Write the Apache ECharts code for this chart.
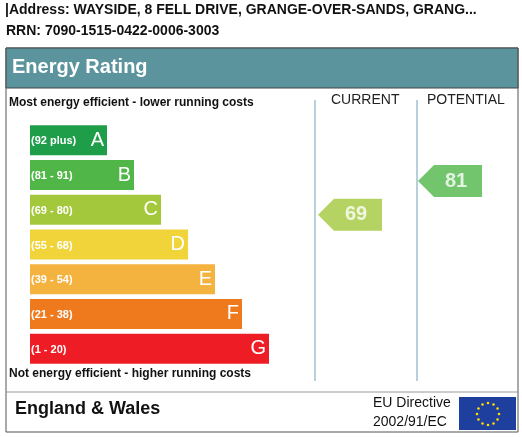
<!DOCTYPE html>
<html><head><meta charset="utf-8">
<script src="https://cdn.jsdelivr.net/npm/echarts@6/dist/echarts.min.js"></script>
<style>html,body{margin:0;padding:0;background:#fff}#c{width:522px;height:437px}</style>
</head><body><div id="c"></div>
<script>
var chart = echarts.init(document.getElementById('c'));

// EPC bands
const bands = ['A', 'B', 'C', 'D', 'E', 'F', 'G'];
const ranges = ['(92 plus)', '(81 - 91)', '(69 - 80)', '(55 - 68)', '(39 - 54)', '(21 - 38)', '(1 - 20)'];
const barLengths = [77, 104, 131, 158, 185, 212, 239];
const bandColors = ['#1f9e4a', '#4fb647', '#a3c83b', '#f0d43a', '#f4b23e', '#ef7a1e', '#ee1c24'];
const current = {value: 69, band: 'C', color: '#a3c83b'};
const potential = {value: 81, band: 'B', color: '#4fb647'};

var stars = [];
for (var i = 0; i < 12; i++) {
  var a = i * Math.PI / 6;
  stars.push({type: 'circle', shape: {cx: 488 + 11 * Math.cos(a), cy: 414 + 11 * Math.sin(a), r: 1.3}, style: {fill: '#ffdd00'}});
}

var font = 'Arial, "Liberation Sans", sans-serif';
var option = {
  animation: false,
  textStyle: {fontFamily: font},
  graphic: [
    {type: 'text', left: 5, top: 3, style: {text: '|Address: WAYSIDE, 8 FELL DRIVE, GRANGE-OVER-SANDS, GRANG...', font: 'bold 14px ' + font, fill: '#111'}},
    {type: 'text', left: 6, top: 24, style: {text: 'RRN: 7090-1515-0422-0006-3003', font: 'bold 14px ' + font, fill: '#111'}},
    {type: 'rect', shape: {x: 6, y: 48, width: 512, height: 384}, style: {fill: 'none', stroke: '#555', lineWidth: 1}},
    {type: 'rect', shape: {x: 6, y: 48, width: 512, height: 40}, style: {fill: '#5b949c', stroke: '#444', lineWidth: 1}},
    {type: 'text', left: 12, top: 57, style: {text: 'Energy Rating', font: 'bold 20px ' + font, fill: '#fff'}},
    {type: 'text', left: 9, top: 97, style: {text: 'Most energy efficient - lower running costs', font: 'bold 12px ' + font, fill: '#111'}},
    {type: 'text', left: 9, top: 368, style: {text: 'Not energy efficient - higher running costs', font: 'bold 12px ' + font, fill: '#111'}},
    {type: 'text', left: 331, top: 93, style: {text: 'CURRENT', font: '14px ' + font, fill: '#222'}},
    {type: 'text', left: 427, top: 93, style: {text: 'POTENTIAL', font: '14px ' + font, fill: '#222'}},
    {type: 'line', shape: {x1: 315, y1: 100, x2: 315, y2: 381}, style: {stroke: '#b7d0dc', lineWidth: 2}},
    {type: 'line', shape: {x1: 417, y1: 100, x2: 417, y2: 381}, style: {stroke: '#b7d0dc', lineWidth: 2}},
    {type: 'line', shape: {x1: 6, y1: 392, x2: 518, y2: 392}, style: {stroke: '#999', lineWidth: 1}},
    {type: 'text', left: 15, top: 400, style: {text: 'England & Wales', font: 'bold 18px ' + font, fill: '#111'}},
    {type: 'text', left: 373, top: 396, style: {text: 'EU Directive', font: '14px ' + font, fill: '#111'}},
    {type: 'text', left: 373, top: 415, style: {text: '2002/91/EC', font: '14px ' + font, fill: '#111'}},
    {type: 'rect', shape: {x: 459, y: 397, width: 57, height: 33}, style: {fill: '#1f3f9f'}}
  ].concat(stars),
  grid: [
    {left: 30, top: 123, width: 239, height: 243},
    {left: 300, top: 123, width: 200, height: 243}
  ],
  xAxis: [
    {gridIndex: 0, type: 'value', min: 0, max: 239, show: false},
    {gridIndex: 1, type: 'value', min: 0, max: 2, show: false}
  ],
  yAxis: [
    {gridIndex: 0, type: 'category', data: bands, inverse: true, show: false},
    {gridIndex: 1, type: 'category', data: bands, inverse: true, show: false}
  ],
  series: [
    {
      type: 'bar', xAxisIndex: 0, yAxisIndex: 0, barWidth: 30,
      data: barLengths.map(function (v, i) { return {value: v, itemStyle: {color: bandColors[i]}}; }),
      label: [],
      labelLayout: null
    },
    {
      type: 'bar', xAxisIndex: 0, yAxisIndex: 0, barWidth: 30, barGap: '-100%',
      data: barLengths.map(function (v, i) { return {value: v, name: ranges[i]}; }),
      itemStyle: {color: 'transparent'},
      label: {show: true, position: 'insideLeft', offset: [-4, 1], formatter: function (p) { return ranges[p.dataIndex]; }, color: '#fff', fontSize: 11, fontWeight: 'bold'}
    },
    {
      type: 'bar', xAxisIndex: 0, yAxisIndex: 0, barWidth: 30, barGap: '-100%',
      data: barLengths,
      itemStyle: {color: 'transparent'},
      label: {show: true, position: 'insideRight', offset: [2, 0], formatter: function (p) { return bands[p.dataIndex]; }, color: '#fff', fontSize: 20}
    },
    {
      type: 'scatter', xAxisIndex: 1, yAxisIndex: 1,
      symbol: 'path://M0,10 L10,0 L40,0 L40,20 L10,20 Z', symbolSize: [64, 32],
      data: [
        {value: [0.5, current.band], symbolOffset: [0, 5], itemStyle: {color: current.color}, label: {formatter: String(current.value)}},
        {value: [1.5, potential.band], symbolOffset: [0, 6], itemStyle: {color: potential.color}, label: {formatter: String(potential.value)}}
      ],
      label: {show: true, position: 'inside', offset: [6, 0], color: '#fff', fontSize: 20, fontWeight: 'bold'}
    }
  ]
};
chart.setOption(option);
</script></body></html>
